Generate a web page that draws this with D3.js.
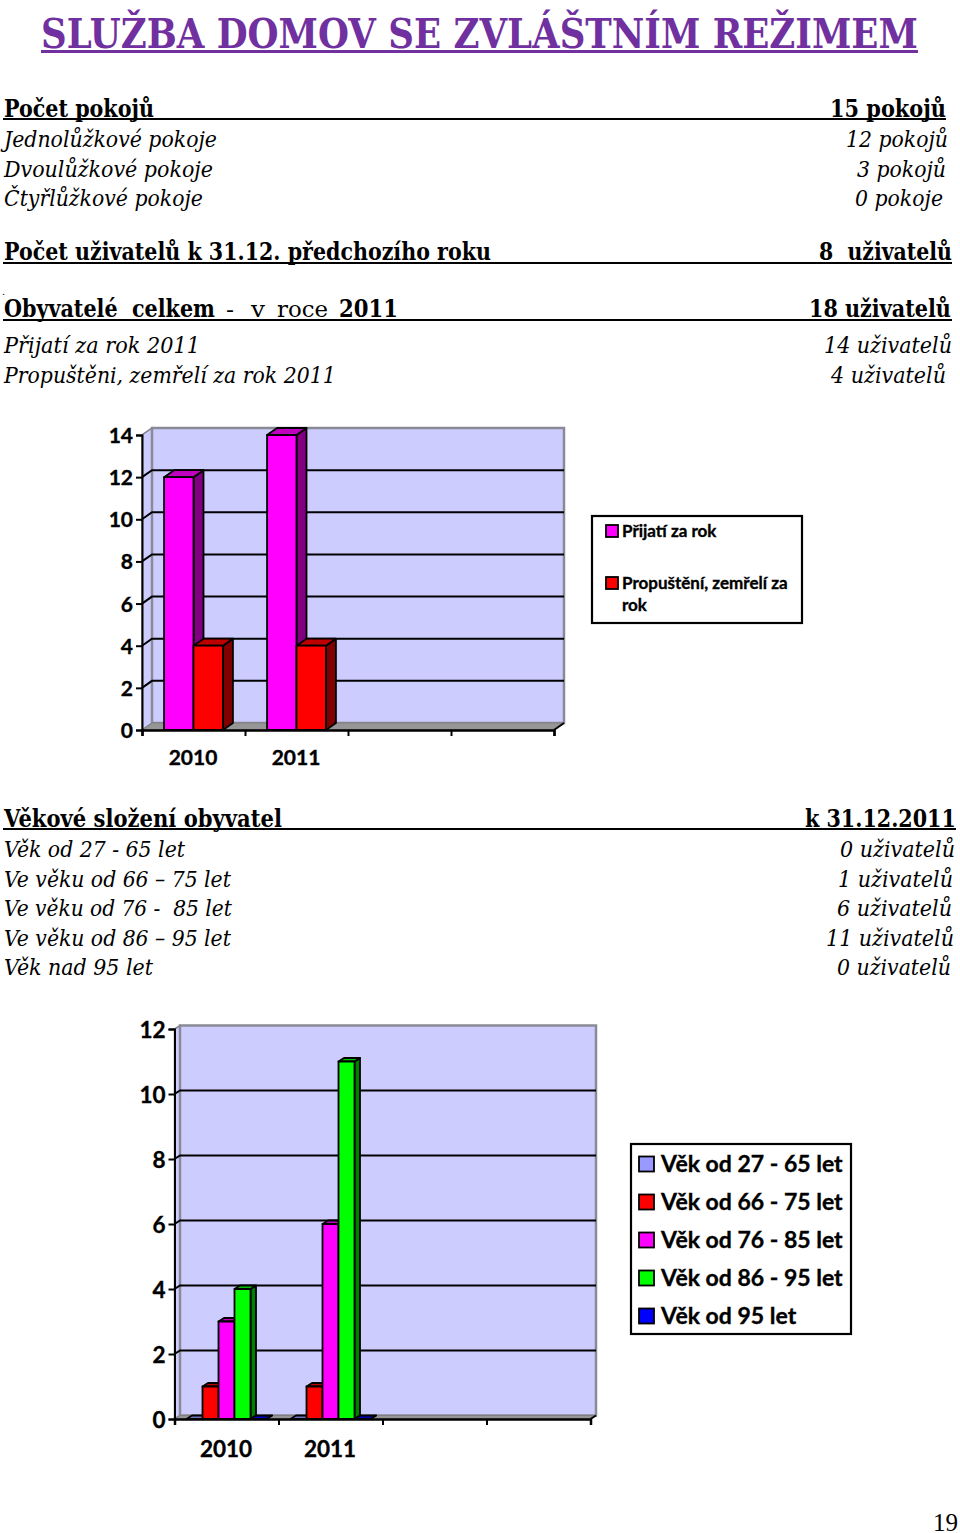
<!DOCTYPE html>
<html>
<head>
<meta charset="utf-8">
<title>Služba domov se zvláštním režimem</title>
<style>
body { margin: 0; background: #fff; }
svg { display: block; }
.serif { font-family: "DejaVu Serif", serif; fill: #000; }
.chart text { font-family: Lato, sans-serif; font-weight: 700; fill: #000; stroke: #000; stroke-width: 0.35px; }
</style>
</head>
<body>
<svg width="960" height="1533"></svg>
<script src="https://d3js.org/d3.v7.min.js"></script>
<script>
var titleText = 'SLUŽBA DOMOV SE ZVLÁŠTNÍM REŽIMEM';

var roomLabels = ['Počet pokojů', 'Jednolůžkové pokoje', 'Dvoulůžkové pokoje', 'Čtyřlůžkové pokoje'];
var roomValues = ['15 pokojů', '12 pokojů', '3 pokojů', '0 pokoje'];
var usersPrevLabel = 'Počet uživatelů k 31.12. předchozího roku';
var usersPrevValue = '8  uživatelů';
var residentLabels = ['Obyvatelé  celkem', 'Přijatí za rok 2011', 'Propuštěni, zemřelí za rok 2011'];
var residentValues = ['18 uživatelů', '14 uživatelů', '4 uživatelů'];
var ageLabels = ['Věkové složení obyvatel', 'Věk od 27 - 65 let', 'Ve věku od 66 – 75 let', 'Ve věku od 76 -  85 let', 'Ve věku od 86 – 95 let', 'Věk nad 95 let'];
var ageValues = ['k 31.12.2011', '0 uživatelů', '1 uživatelů', '6 uživatelů', '11 uživatelů', '0 uživatelů'];

var categories = ['2010', '2011', '', ''];

var flowSeries = ['Přijatí za rok', 'Propuštění, zemřelí za rok'];
var admitted = [12, 14];
var released = [4, 4];
var flowTicks = [0, 2, 4, 6, 8, 10, 12, 14];

var ageSeries = ['Věk od 27 - 65 let', 'Věk od 66 - 75 let', 'Věk od 76 - 85 let', 'Věk od 86 - 95 let', 'Věk od 95 let'];
var age27 = [0, 0];
var age66 = [1, 1];
var age76 = [3, 6];
var age86 = [4, 11];
var age95 = [0, 0];
var ageTicks = [0, 2, 4, 6, 8, 10, 12];

var svg = d3.select('svg');

// Cambria is not installed, so squeeze DejaVu Serif to the width of the original
function text(str, x, y, size, w, opts) {
	opts = opts || {};
	var t = svg.append('text').attr('class', 'serif')
		.attr('font-size', size)
		.attr('font-weight', opts.bold ? 700 : 400)
		.attr('font-style', opts.italic ? 'italic' : 'normal')
		.style('white-space', 'pre')
		.text(str);
	var sx = w ? w / t.node().getComputedTextLength() : 1;
	t.attr('transform', 'translate(' + x + ',' + y + ') scale(' + sx + ',1)');
	if (opts.fill) t.style('fill', opts.fill);
	return t;
}

function rule(x1, x2, y, w, col) {
	svg.append('line').attr('x1', x1).attr('x2', x2).attr('y1', y).attr('y2', y)
		.attr('stroke', col || '#000').attr('stroke-width', w || 2);
}

// Title
text(titleText, 41, 47.5, 41, 877, {bold: true, fill: '#7030a0'});
rule(41, 918, 51.5, 3, '#7030a0');

// Rooms
text(roomLabels[0], 4, 117, 24, 150, {bold: true});
text(roomValues[0], 830, 117, 24, 116, {bold: true});
rule(3, 946, 119);
text(roomLabels[1], 4, 147, 23, 213, {italic: true});
text(roomValues[1], 846, 147, 23, 102, {italic: true});
text(roomLabels[2], 4, 177, 23, 209, {italic: true});
text(roomValues[2], 857, 177, 23, 89, {italic: true});
text(roomLabels[3], 4, 206, 23, 199, {italic: true});
text(roomValues[3], 855, 206, 23, 88, {italic: true});

text(usersPrevLabel, 4, 260, 24, 487, {bold: true});
text(usersPrevValue, 819, 260, 24, 133, {bold: true});
rule(3, 952, 263);

text('.', 2, 295, 10);
text(residentLabels[0], 4, 317, 24, 211, {bold: true});
text('-', 226, 317, 23, 8);
text('v', 251, 317, 23, 14);
text('roce', 277, 317, 23, 51);
text('2011', 339, 317, 24, 59, {bold: true});
text(residentValues[0], 809, 317, 24, 142, {bold: true});
rule(3, 952, 320);
text(residentLabels[1], 4, 353, 23, 196, {italic: true});
text(residentValues[1], 824, 353, 23, 128, {italic: true});
text(residentLabels[2], 4, 383, 23, 332, {italic: true});
text(residentValues[2], 831, 383, 23, 115, {italic: true});

// Age table
var ageLabelW = [278, 181, 227, 228, 227, 149];
var ageValueX = [805, 840, 838, 837, 826, 837];
var ageValueW = [151, 115, 115, 115, 128, 114];
var ageY = [827, 857, 887, 916, 946, 975];
ageLabels.forEach(function(d, i) {
	var o = i === 0 ? {bold: true} : {italic: true};
	var size = i === 0 ? 24 : 23;
	text(d, 4, ageY[i], size, ageLabelW[i], o);
	text(ageValues[i], ageValueX[i], ageY[i], size, ageValueW[i], o);
});
rule(3, 956, 829);

// Page number
svg.append('text').attr('x', 933).attr('y', 1531)
	.style('font-family', '"Liberation Serif", serif').style('font-size', '25px').text('19');

// 3D column chart with the look of an old spreadsheet chart
function columnChart(c) {
	var g = svg.append('g').attr('class', 'chart');
	var y = d3.scaleLinear().domain(c.domain).range([c.y0, c.y1]);
	var x = d3.scaleBand().domain(d3.range(categories.length))
		.range([c.x0, c.x1]);
	var inner = d3.scaleBand().domain(d3.range(c.series.length))
		.range([0, x.bandwidth()]).paddingInner(0).paddingOuter(0.75);
	var dx = c.dx, dy = c.dy;

	// walls and floor
	g.append('polygon')
		.attr('points', [[c.x0, c.y0], [c.x0 + dx, c.y0 - dy], [c.x0 + dx, c.y1 - dy], [c.x0, c.y1]].join(' '))
		.attr('fill', '#ccccff').attr('stroke', '#808080').attr('stroke-width', 1.5);
	g.append('rect')
		.attr('x', c.x0 + dx).attr('y', c.y1 - dy)
		.attr('width', c.x1 - c.x0).attr('height', c.y0 - c.y1)
		.attr('fill', '#ccccff').attr('stroke', '#8a8a96').attr('stroke-width', 2.5);
	g.append('polygon')
		.attr('points', [[c.x0, c.y0], [c.x0 + dx, c.y0 - dy], [c.x1 + dx, c.y0 - dy], [c.x1, c.y0]].join(' '))
		.attr('fill', '#969696').attr('stroke', '#808080').attr('stroke-width', 1);

	// gridlines on back and side wall
	var grid = c.ticks.filter(function(d) { return d > 0 && d < c.domain[1]; });
	g.selectAll('.grid').data(grid).enter().append('polyline')
		.attr('points', function(d) {
			return [[c.x0, y(d)], [c.x0 + dx, y(d) - dy], [c.x1 + dx, y(d) - dy]].join(' ');
		})
		.attr('fill', 'none').attr('stroke', '#000').attr('stroke-width', 2);

	// columns
	c.values.forEach(function(vals, s) {
		var col = c.colors[s];
		vals.forEach(function(v, i) {
			var l = x(i) + inner(s), r = l + inner.bandwidth();
			var t = y(v), b = y(0);
			var bar = g.append('g').attr('stroke', '#000').attr('stroke-width', 1.8).attr('stroke-linejoin', 'round');
			bar.append('polygon')
				.attr('points', [[r, b], [r + dx, b - dy], [r + dx, t - dy], [r, t]].join(' '))
				.attr('fill', col.side);
			bar.append('polygon')
				.attr('points', [[l, t], [l + dx, t - dy], [r + dx, t - dy], [r, t]].join(' '))
				.attr('fill', col.top);
			bar.append('rect')
				.attr('x', l).attr('y', t).attr('width', r - l).attr('height', b - t)
				.attr('fill', col.front);
		});
	});

	// axes
	var yAxis = d3.axisLeft(y).tickValues(c.ticks).tickFormat(d3.format('d')).tickSize(6).tickPadding(3);
	g.append('g').attr('transform', 'translate(' + c.x0 + ',0)').call(yAxis)
		.call(function(a) {
			a.select('.domain').attr('stroke-width', 2);
			a.selectAll('line').attr('stroke-width', 2);
			a.selectAll('text').attr('font-size', c.tickSize).attr('dy', '0.36em');
		});
	var edges = d3.scaleLinear().domain([0, categories.length]).range([c.x0, c.x1]);
	var xAxis = d3.axisBottom(edges).tickValues(d3.range(categories.length + 1)).tickFormat('').tickSize(6).tickSizeOuter(6);
	g.append('g').attr('transform', 'translate(0,' + c.y0 + ')').call(xAxis)
		.call(function(a) {
			a.select('.domain').attr('stroke-width', 2.5);
			a.selectAll('line').attr('stroke-width', 2);
		});
	g.append('line')
		.attr('x1', c.x1).attr('y1', c.y0).attr('x2', c.x1 + dx).attr('y2', c.y0 - dy)
		.attr('stroke', '#000').attr('stroke-width', 2);
	g.selectAll('.cat').data(categories).enter().append('text')
		.attr('x', function(d, i) { return x(i) + x.bandwidth() / 2 - 0.5; })
		.attr('y', c.catY)
		.attr('text-anchor', 'middle')
		.attr('font-size', c.tickSize)
		.text(function(d) { return d; });

	// legend
	var L = c.legend;
	g.append('rect').attr('x', L.x).attr('y', L.y).attr('width', L.w).attr('height', L.h)
		.attr('fill', '#fff').attr('stroke', '#000').attr('stroke-width', 2.2);
	c.series.forEach(function(name, s) {
		g.append('rect')
			.attr('x', L.swatchX).attr('y', L.rowY[s] - L.swatch / 2)
			.attr('width', L.swatch).attr('height', L.swatch)
			.attr('fill', c.colors[s].front).attr('stroke', '#000').attr('stroke-width', 1.8);
		var lines = L.wrap && L.wrap[s] ? L.wrap[s] : [name];
		lines.forEach(function(line, k) {
			g.append('text')
				.attr('x', L.textX)
				.attr('y', L.rowY[s] + L.base + k * L.lineH)
				.attr('font-size', L.size)
				.text(line);
		});
	});
}

var magenta = {front: '#ff00ff', top: '#bf00bf', side: '#800080'};
var red = {front: '#ff0000', top: '#bf0000', side: '#800000'};
var green = {front: '#00ff00', top: '#00bf00', side: '#008000'};
var lilac = {front: '#9999ff', top: '#7373bf', side: '#4d4d80'};
var blue = {front: '#0000ff', top: '#0000bf', side: '#000080'};

columnChart({
	series: flowSeries, values: [admitted, released], colors: [magenta, red],
	domain: [0, 14], ticks: flowTicks,
	x0: 142, x1: 554, y0: 730, y1: 435, dx: 10, dy: 7,
	tickSize: 21, catY: 764.5,
	legend: {
		x: 592, y: 516, w: 210, h: 107, swatchX: 606, swatch: 12,
		rowY: [531, 583], textX: 622, base: 6, size: 17, lineH: 22,
		wrap: {1: ['Propuštění, zemřelí za', 'rok']}
	}
});

columnChart({
	series: ageSeries, values: [age27, age66, age76, age86, age95],
	colors: [lilac, red, magenta, green, blue],
	domain: [0, 12], ticks: ageTicks,
	x0: 174.5, x1: 590.5, y0: 1419, y1: 1029, dx: 5.5, dy: 3.5,
	tickSize: 22.5, catY: 1457,
	legend: {
		x: 631, y: 1144, w: 220, h: 190, swatchX: 639, swatch: 15,
		rowY: [1164, 1202, 1240, 1278, 1316], textX: 661, base: 8, size: 23, lineH: 26
	}
});
</script>
</body>
</html>
